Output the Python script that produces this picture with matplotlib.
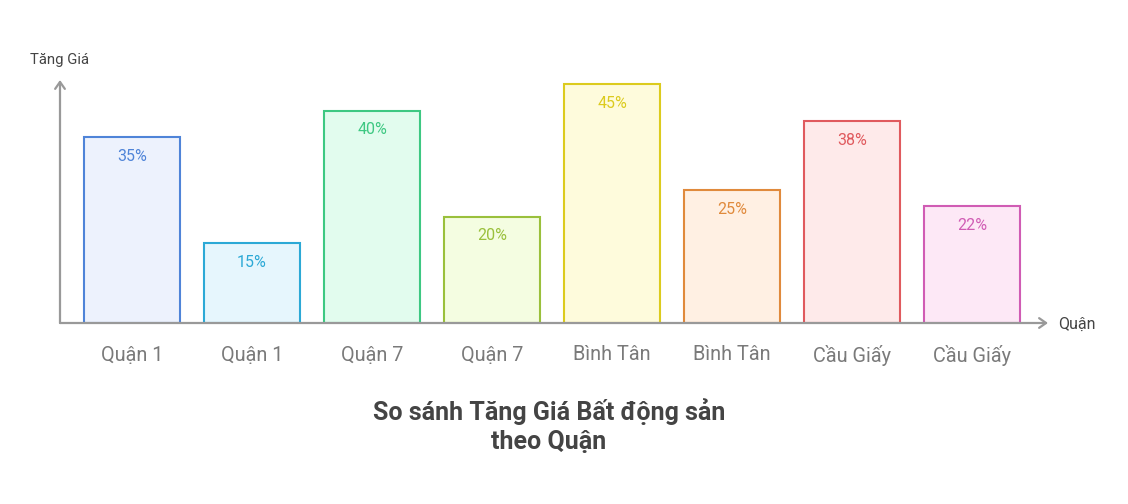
import matplotlib
matplotlib.use("Agg")
import matplotlib.pyplot as plt

categories = ["Quận 1", "Quận 1", "Quận 7", "Quận 7", "Bình Tân", "Bình Tân", "Cầu Giấy", "Cầu Giấy"]
values = [35, 15, 40, 20, 45, 25, 38, 22]
labels = ["35%", "15%", "40%", "20%", "45%", "25%", "38%", "22%"]
edge_colors = ["#4f84d8", "#2ca9d6", "#3ec882", "#9ac03c", "#dccb1e", "#e08a3c", "#e05a5e", "#d05cb4"]
fill_colors = ["#edf2fd", "#e6f6fd", "#e2fcee", "#f4fde1", "#fefbdc", "#fff0e3", "#feeaea", "#fde8f6"]
title = "So sánh Tăng Giá Bất động sản\ntheo Quận"
y_label = "Tăng Giá"
x_label = "Quận"

plt.rcParams['font.family'] = ['Roboto', 'DejaVu Sans']

W, H = 1128, 504
fig = plt.figure(figsize=(W / 100, H / 100), dpi=100)
# axes spanning from x=60 to 1048 px, y from 80 to 323 px
ax = fig.add_axes([60 / W, (H - 323) / H, (1048 - 60) / W, (323 - 80) / H])
px_per_pct = (323 - 84) / 45.0
ax.set_ylim(0, (323 - 80) / px_per_pct)
ax.set_xlim((60 - 132) / 120, (1048 - 132) / 120)
ax.axis('off')

xs = list(range(len(values)))
ax.bar(xs, values, width=0.8, color=fill_colors, edgecolor=edge_colors, linewidth=1.5, zorder=2)

for x, v, lab, c in zip(xs, values, labels, edge_colors):
    ax.annotate(lab, (x, v), xytext=(0, -19), textcoords='offset pixels',
                ha='center', va='center', fontsize=11.5, color=c, zorder=3)
    ax.annotate(categories[x], (x, 0), xytext=(0, -32), textcoords='offset pixels',
                ha='center', va='center', fontsize=14.3, color='#7a7a7a')

axis_col = '#999999'
ax.annotate('', xy=(1.0, 0), xytext=(0, 0), xycoords='axes fraction',
            arrowprops=dict(arrowstyle='->,head_length=0.5,head_width=0.35', color=axis_col, lw=1.6,
                            shrinkA=0, shrinkB=0), annotation_clip=False)
ax.annotate('', xy=(0, 1.0), xytext=(0, 0), xycoords='axes fraction',
            arrowprops=dict(arrowstyle='->,head_length=0.5,head_width=0.35', color=axis_col, lw=1.6,
                            shrinkA=0, shrinkB=0), annotation_clip=False)

fig.text(1058 / W, 1 - 324 / H, x_label, ha='left', va='center', fontsize=11.5, color='#444444')
fig.text(60 / W, 1 - 60 / H, y_label, ha='center', va='center', fontsize=10.7, color='#444444')

fig.text(549 / W, 1 - 426 / H, title, ha='center', va='center', fontsize=18, fontweight='bold',
         color='#444444', linespacing=1.3)

fig.savefig("out.png", dpi=100)
